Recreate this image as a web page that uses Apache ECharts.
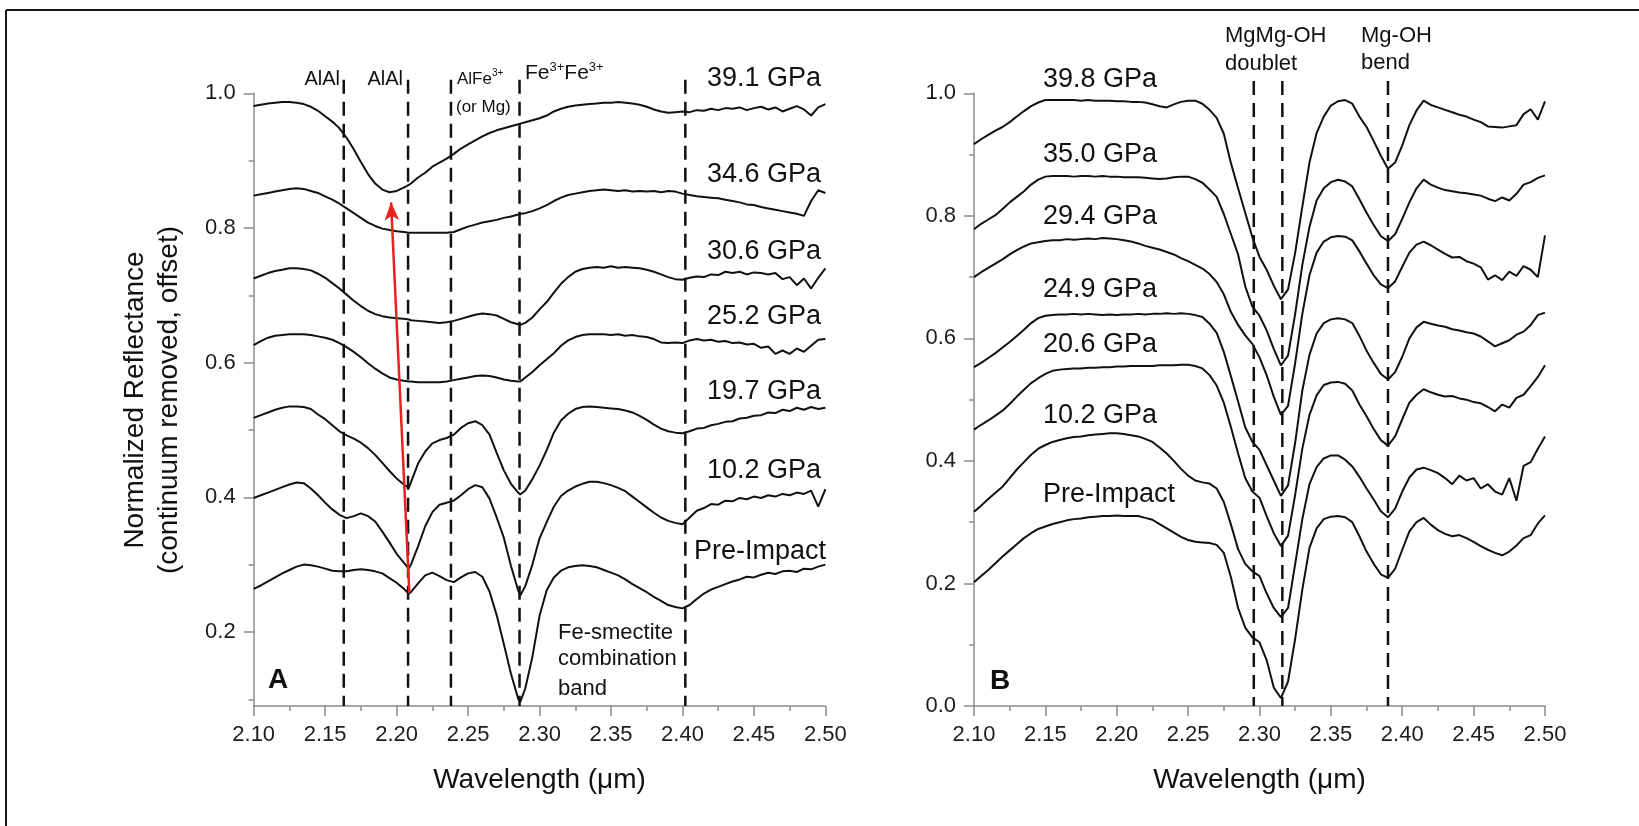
<!DOCTYPE html>
<html>
<head>
<meta charset="utf-8">
<script src="https://cdn.jsdelivr.net/npm/echarts@6/dist/echarts.min.js"></script>
<style>
  html, body { margin: 0; padding: 0; background: #fff; }
  #chart { width: 1639px; height: 826px; }
</style>
</head>
<body>
<div id="chart"></div>
<script>
// ---------- Panel A: Fe-smectite, continuum-removed spectra (offset) ----------
const wavelengthA = [2.100,2.105,2.110,2.115,2.120,2.125,2.130,2.135,2.140,2.145,2.150,2.155,2.160,2.165,2.170,2.175,2.180,2.185,2.190,2.195,2.200,2.205,2.2085,2.210,2.215,2.220,2.225,2.230,2.235,2.240,2.245,2.250,2.255,2.260,2.265,2.270,2.275,2.280,2.285,2.2865,2.290,2.295,2.300,2.305,2.310,2.315,2.320,2.325,2.330,2.335,2.340,2.345,2.350,2.355,2.360,2.365,2.370,2.375,2.380,2.385,2.390,2.395,2.400,2.405,2.410,2.415,2.420,2.425,2.430,2.435,2.440,2.445,2.450,2.455,2.460,2.465,2.470,2.475,2.480,2.485,2.490,2.495,2.500];

const refA_391 = [0.981,0.983,0.985,0.986,0.987,0.987,0.986,0.984,0.980,0.974,
  0.966,0.958,0.948,0.934,0.917,0.898,0.880,0.866,0.857,0.853,
  0.855,0.860,0.864,0.866,0.875,0.882,0.891,0.897,0.903,0.910,
  0.918,0.924,0.930,0.936,0.941,0.945,0.948,0.951,0.954,0.955,
  0.957,0.960,0.963,0.967,0.973,0.977,0.980,0.982,0.983,0.984,
  0.985,0.986,0.986,0.987,0.986,0.985,0.983,0.980,0.976,0.973,
  0.971,0.972,0.973,0.972,0.975,0.974,0.977,0.975,0.978,0.977,
  0.979,0.975,0.978,0.980,0.976,0.979,0.973,0.977,0.981,0.976,
  0.967,0.979,0.984];
const refA_346 = [0.848,0.850,0.852,0.854,0.856,0.858,0.859,0.858,0.855,0.852,
  0.847,0.842,0.836,0.829,0.822,0.815,0.808,0.803,0.799,0.797,
  0.795,0.794,0.793,0.793,0.793,0.793,0.793,0.793,0.793,0.794,
  0.798,0.802,0.805,0.808,0.810,0.812,0.815,0.817,0.820,0.821,
  0.822,0.825,0.829,0.834,0.840,0.845,0.849,0.851,0.853,0.855,
  0.856,0.857,0.856,0.855,0.856,0.854,0.855,0.854,0.855,0.853,
  0.855,0.854,0.851,0.849,0.847,0.846,0.845,0.844,0.842,0.840,
  0.838,0.835,0.834,0.831,0.829,0.827,0.825,0.823,0.821,0.818,
  0.840,0.856,0.852];
const refA_306 = [0.725,0.729,0.733,0.736,0.738,0.740,0.740,0.739,0.737,0.732,
  0.726,0.718,0.710,0.701,0.692,0.684,0.677,0.672,0.669,0.667,
  0.666,0.665,0.664,0.663,0.662,0.661,0.660,0.659,0.660,0.662,
  0.665,0.668,0.671,0.673,0.672,0.670,0.665,0.660,0.657,0.656,
  0.659,0.667,0.679,0.690,0.704,0.717,0.727,0.735,0.739,0.741,
  0.742,0.741,0.743,0.741,0.742,0.741,0.740,0.738,0.735,0.731,
  0.727,0.724,0.723,0.726,0.728,0.727,0.731,0.730,0.735,0.733,
  0.735,0.731,0.734,0.733,0.731,0.733,0.724,0.727,0.715,0.725,
  0.710,0.726,0.740];
const refA_252 = [0.626,0.632,0.637,0.640,0.641,0.642,0.642,0.642,0.641,0.639,
  0.637,0.634,0.629,0.623,0.616,0.608,0.599,0.591,0.584,0.578,
  0.575,0.573,0.572,0.572,0.571,0.571,0.571,0.571,0.572,0.574,
  0.576,0.578,0.580,0.581,0.580,0.578,0.575,0.573,0.572,0.572,
  0.578,0.586,0.596,0.605,0.614,0.625,0.633,0.638,0.641,0.642,
  0.642,0.642,0.641,0.642,0.640,0.641,0.639,0.638,0.635,0.630,
  0.629,0.630,0.629,0.633,0.635,0.633,0.634,0.631,0.632,0.629,
  0.630,0.627,0.628,0.622,0.624,0.613,0.618,0.613,0.621,0.616,
  0.625,0.634,0.635];
const refA_197 = [0.518,0.522,0.526,0.530,0.533,0.535,0.535,0.534,0.531,0.523,
  0.516,0.507,0.498,0.492,0.487,0.481,0.473,0.463,0.451,0.439,
  0.428,0.419,0.414,0.422,0.450,0.468,0.480,0.485,0.488,0.493,
  0.503,0.510,0.513,0.507,0.493,0.466,0.440,0.420,0.407,0.404,
  0.410,0.427,0.447,0.470,0.496,0.514,0.524,0.531,0.534,0.535,
  0.534,0.533,0.532,0.531,0.529,0.526,0.521,0.515,0.508,0.502,
  0.498,0.496,0.495,0.498,0.502,0.503,0.507,0.509,0.512,0.513,
  0.517,0.518,0.521,0.522,0.526,0.525,0.530,0.528,0.533,0.530,
  0.534,0.531,0.533];
const refA_102 = [0.399,0.403,0.407,0.411,0.415,0.419,0.422,0.421,0.413,0.403,
  0.392,0.382,0.374,0.369,0.372,0.376,0.372,0.364,0.349,0.333,
  0.316,0.303,0.294,0.300,0.327,0.357,0.378,0.389,0.392,0.395,
  0.403,0.412,0.418,0.415,0.398,0.370,0.340,0.298,0.262,0.254,
  0.268,0.300,0.339,0.363,0.386,0.402,0.410,0.416,0.420,0.423,
  0.423,0.421,0.418,0.414,0.409,0.401,0.393,0.385,0.377,0.370,
  0.365,0.362,0.360,0.370,0.380,0.384,0.390,0.389,0.395,0.394,
  0.399,0.397,0.401,0.399,0.403,0.401,0.405,0.403,0.407,0.405,
  0.410,0.386,0.412];
const refA_pre = [0.264,0.269,0.275,0.281,0.287,0.292,0.297,0.300,0.299,0.297,
  0.294,0.291,0.290,0.290,0.292,0.293,0.292,0.290,0.287,0.280,
  0.273,0.264,0.257,0.259,0.272,0.284,0.288,0.283,0.277,0.274,
  0.281,0.287,0.289,0.282,0.260,0.225,0.182,0.138,0.101,0.096,
  0.116,0.163,0.224,0.262,0.281,0.291,0.296,0.298,0.299,0.298,
  0.296,0.292,0.288,0.284,0.278,0.271,0.265,0.259,0.252,0.246,
  0.240,0.237,0.235,0.240,0.249,0.257,0.263,0.267,0.271,0.275,
  0.278,0.282,0.281,0.285,0.288,0.286,0.290,0.291,0.289,0.294,
  0.293,0.297,0.300];

const labelsA = ['39.1 GPa', '34.6 GPa', '30.6 GPa', '25.2 GPa', '19.7 GPa', '10.2 GPa', 'Pre-Impact'];
const bandCentersA = [2.163, 2.208, 2.238, 2.286, 2.402];
// AlAl band minimum shifting with pressure: Pre-Impact -> 39.1 GPa
const shiftArrowA = [[2.2089, 0.258], [2.1961, 0.838]];

// ---------- Panel B: Mg-smectite spectra (offset) ----------
const wavelengthB = [2.100,2.105,2.110,2.115,2.120,2.125,2.130,2.135,2.140,2.145,2.150,2.155,2.160,2.165,2.170,2.175,2.180,2.185,2.190,2.195,2.200,2.205,2.210,2.215,2.220,2.225,2.230,2.235,2.240,2.245,2.250,2.255,2.260,2.265,2.270,2.275,2.280,2.285,2.290,2.295,2.300,2.305,2.310,2.315,2.320,2.325,2.330,2.335,2.340,2.345,2.350,2.355,2.360,2.365,2.370,2.375,2.380,2.385,2.390,2.395,2.400,2.405,2.410,2.415,2.420,2.425,2.430,2.435,2.440,2.445,2.450,2.455,2.460,2.465,2.470,2.475,2.480,2.485,2.490,2.495,2.500];

const refB_398 = [0.917,0.925,0.932,0.939,0.945,0.953,0.962,0.971,0.979,0.985,
  0.989,0.989,0.989,0.989,0.989,0.988,0.989,0.988,0.988,0.988,
  0.987,0.987,0.986,0.986,0.985,0.982,0.979,0.977,0.982,0.986,
  0.988,0.988,0.983,0.973,0.960,0.934,0.886,0.845,0.805,0.765,
  0.733,0.712,0.686,0.664,0.680,0.740,0.815,0.887,0.935,0.962,
  0.980,0.987,0.989,0.983,0.962,0.945,0.922,0.898,0.877,0.887,
  0.915,0.948,0.972,0.988,0.981,0.977,0.973,0.969,0.965,0.962,
  0.957,0.953,0.946,0.945,0.944,0.946,0.948,0.966,0.974,0.957,
  0.987];
const refB_350 = [0.778,0.787,0.794,0.801,0.811,0.822,0.831,0.840,0.851,0.859,
  0.864,0.865,0.865,0.865,0.864,0.865,0.865,0.864,0.865,0.864,
  0.864,0.863,0.863,0.863,0.862,0.861,0.860,0.861,0.863,0.864,
  0.864,0.860,0.854,0.843,0.831,0.803,0.770,0.737,0.685,0.652,
  0.637,0.613,0.583,0.556,0.572,0.640,0.720,0.782,0.825,0.845,
  0.855,0.859,0.856,0.848,0.827,0.805,0.785,0.767,0.759,0.770,
  0.795,0.822,0.845,0.859,0.851,0.846,0.842,0.840,0.838,0.837,
  0.835,0.833,0.828,0.824,0.830,0.825,0.836,0.851,0.855,0.862,
  0.866];
const refB_294 = [0.700,0.708,0.715,0.722,0.729,0.737,0.744,0.750,0.755,0.757,
  0.759,0.760,0.760,0.762,0.761,0.762,0.763,0.762,0.764,0.763,
  0.762,0.760,0.758,0.755,0.751,0.748,0.745,0.741,0.737,0.731,
  0.726,0.720,0.714,0.705,0.692,0.672,0.643,0.622,0.605,0.591,
  0.569,0.540,0.505,0.475,0.490,0.560,0.640,0.703,0.740,0.758,
  0.765,0.767,0.766,0.760,0.742,0.722,0.703,0.688,0.682,0.693,
  0.717,0.740,0.753,0.758,0.752,0.745,0.738,0.732,0.733,0.726,
  0.722,0.716,0.696,0.703,0.695,0.709,0.702,0.718,0.712,0.700,
  0.768];
const refB_249 = [0.553,0.560,0.568,0.576,0.585,0.594,0.604,0.614,0.625,0.633,
  0.637,0.638,0.639,0.639,0.640,0.639,0.640,0.639,0.638,0.639,
  0.638,0.639,0.639,0.640,0.639,0.640,0.640,0.641,0.640,0.641,
  0.640,0.638,0.635,0.624,0.609,0.578,0.538,0.497,0.455,0.431,
  0.418,0.393,0.368,0.343,0.360,0.430,0.515,0.573,0.608,0.625,
  0.631,0.633,0.631,0.625,0.604,0.580,0.560,0.542,0.533,0.545,
  0.570,0.600,0.618,0.627,0.624,0.621,0.619,0.615,0.613,0.610,
  0.608,0.603,0.595,0.587,0.592,0.597,0.606,0.611,0.622,0.638,
  0.642];
const refB_206 = [0.451,0.459,0.466,0.474,0.482,0.493,0.505,0.516,0.527,0.535,
  0.542,0.547,0.549,0.550,0.551,0.551,0.552,0.552,0.553,0.553,
  0.554,0.554,0.555,0.555,0.555,0.555,0.556,0.556,0.556,0.557,
  0.557,0.555,0.551,0.540,0.523,0.495,0.455,0.412,0.372,0.350,
  0.340,0.310,0.282,0.261,0.278,0.345,0.420,0.475,0.507,0.524,
  0.528,0.529,0.526,0.515,0.492,0.473,0.452,0.434,0.425,0.440,
  0.468,0.495,0.508,0.517,0.512,0.508,0.505,0.506,0.502,0.500,
  0.496,0.494,0.488,0.481,0.492,0.487,0.503,0.508,0.522,0.537,
  0.556];
const refB_102 = [0.317,0.327,0.338,0.348,0.358,0.372,0.386,0.398,0.410,0.420,
  0.426,0.431,0.434,0.437,0.439,0.440,0.442,0.443,0.444,0.445,
  0.445,0.444,0.442,0.440,0.436,0.431,0.422,0.412,0.400,0.387,
  0.376,0.368,0.365,0.363,0.355,0.333,0.296,0.256,0.232,0.220,
  0.212,0.184,0.160,0.145,0.160,0.232,0.305,0.362,0.390,0.404,
  0.409,0.409,0.402,0.391,0.374,0.355,0.337,0.318,0.308,0.322,
  0.350,0.373,0.386,0.389,0.385,0.380,0.372,0.362,0.376,0.368,
  0.372,0.355,0.362,0.350,0.345,0.372,0.335,0.392,0.398,0.420,
  0.440];
const refB_pre = [0.202,0.212,0.222,0.233,0.244,0.254,0.264,0.274,0.282,0.289,
  0.293,0.297,0.300,0.303,0.305,0.306,0.308,0.309,0.310,0.310,
  0.311,0.310,0.310,0.310,0.307,0.304,0.297,0.290,0.283,0.276,
  0.271,0.268,0.267,0.266,0.263,0.250,0.210,0.160,0.128,0.112,
  0.104,0.075,0.030,0.013,0.040,0.110,0.190,0.258,0.290,0.305,
  0.309,0.310,0.308,0.300,0.277,0.252,0.232,0.215,0.209,0.224,
  0.255,0.285,0.300,0.307,0.296,0.287,0.281,0.277,0.279,0.274,
  0.268,0.261,0.255,0.250,0.246,0.252,0.262,0.274,0.279,0.298,
  0.311];

const labelsB = ['39.8 GPa', '35.0 GPa', '29.4 GPa', '24.9 GPa', '20.6 GPa', '10.2 GPa', 'Pre-Impact'];
const bandCentersB = [2.296, 2.316, 2.390];

// Axis ranges and ticks
const xTicks = [2.10, 2.15, 2.20, 2.25, 2.30, 2.35, 2.40, 2.45, 2.50];
const yTicksA = [0.2, 0.4, 0.6, 0.8, 1.0];
const yMinorA = [0.1, 0.3, 0.5, 0.7, 0.9];
const yMinA = 0.09, yMaxA = 1.0;
const yMinB = 0.0, yMaxB = 1.0;
const bandLineTop = 1.02;

// ---------- styling ----------
const FONT = "'Liberation Sans', Arial, Helvetica, sans-serif";
const INK = '#111111';
const AXIS = '#8c8c8c';
const ARROW_RED = '#e8231f';

const gridA = { left: 253.7, top: 93.3, width: 571.7, height: 612.7 };
const gridB = { left: 974, top: 93.3, width: 571, height: 612.7 };

function xAxisFor(gridIndex) {
  return {
    type: 'value', gridIndex,
    min: xTicks[0], max: xTicks[xTicks.length - 1], interval: 0.05,
    name: 'Wavelength (\u03bcm)', nameLocation: 'middle', nameGap: 60,
    nameTextStyle: { fontFamily: FONT, fontSize: 28, color: INK },
    axisLine: { show: true, onZero: false, lineStyle: { color: AXIS, width: 1.5 } },
    axisTick: { show: true, inside: false, length: 10, lineStyle: { color: AXIS, width: 1.5 } },
    minorTick: { show: true, splitNumber: 2, length: 5, lineStyle: { color: AXIS, width: 1.5 } },
    axisLabel: { margin: 18, fontFamily: FONT, fontSize: 22, color: '#1c1c1c',
                 formatter: v => v.toFixed(2) },
    splitLine: { show: false }, minorSplitLine: { show: false }
  };
}

const yAxes = [
  { // panel A, labelled ticks
    type: 'value', gridIndex: 0, position: 'left', min: yMinA, max: yMaxA,
    axisLine: { show: true, onZero: false, lineStyle: { color: AXIS, width: 1.5 } },
    axisTick: { show: true, length: 10, customValues: yTicksA, lineStyle: { color: AXIS, width: 1.5 } },
    axisLabel: { margin: 18, fontFamily: FONT, fontSize: 22, color: '#1c1c1c',
                 customValues: yTicksA, formatter: v => v.toFixed(1) },
    splitLine: { show: false }
  },
  { // panel A, minor ticks on the same left edge
    type: 'value', gridIndex: 0, position: 'left', offset: 0, min: yMinA, max: yMaxA,
    axisLine: { show: false, onZero: false },
    axisTick: { show: true, length: 5, customValues: yMinorA, lineStyle: { color: AXIS, width: 1.5 } },
    axisLabel: { show: false },
    splitLine: { show: false }
  },
  { // panel B
    type: 'value', gridIndex: 1, position: 'left', min: yMinB, max: yMaxB, interval: 0.2,
    axisLine: { show: true, onZero: false, lineStyle: { color: AXIS, width: 1.5 } },
    axisTick: { show: true, length: 10, lineStyle: { color: AXIS, width: 1.5 } },
    minorTick: { show: true, splitNumber: 2, length: 5, lineStyle: { color: AXIS, width: 1.5 } },
    axisLabel: { margin: 18, fontFamily: FONT, fontSize: 22, color: '#1c1c1c',
                 formatter: v => v.toFixed(1) },
    splitLine: { show: false }, minorSplitLine: { show: false }
  }
];

function spectrum(name, xs, ys, xAxisIndex, yAxisIndex) {
  return {
    type: 'line', name, xAxisIndex, yAxisIndex,
    data: xs.map((w, i) => [w, ys[i]]),
    showSymbol: false, symbol: 'none', silent: true, z: 3,
    lineStyle: { color: INK, width: 2 }
  };
}

function bandLine(x, yBottom, xAxisIndex, yAxisIndex) {
  return {
    type: 'line', xAxisIndex, yAxisIndex,
    data: [[x, bandLineTop], [x, yBottom]],
    showSymbol: false, symbol: 'none', silent: true, clip: false, z: 2,
    lineStyle: { color: INK, width: 2.5, type: [14, 8] }
  };
}

const spectraA = [refA_391, refA_346, refA_306, refA_252, refA_197, refA_102, refA_pre];
const spectraB = [refB_398, refB_350, refB_294, refB_249, refB_206, refB_102, refB_pre];

const series = [];
bandCentersA.forEach(x => series.push(bandLine(x, yMinA, 0, 0)));
bandCentersB.forEach(x => series.push(bandLine(x, yMinB, 1, 2)));
spectraA.forEach((ys, i) => series.push(spectrum('A ' + labelsA[i], wavelengthA, ys, 0, 0)));
spectraB.forEach((ys, i) => series.push(spectrum('B ' + labelsB[i], wavelengthB, ys, 1, 2)));
series.push({
  type: 'line', xAxisIndex: 0, yAxisIndex: 0, data: [], silent: true, z: 10,
  markLine: {
    silent: true, animation: false,
    symbol: ['none', 'arrow'], symbolSize: [11, 18],
    label: { show: false },
    lineStyle: { color: ARROW_RED, width: 2.5, type: 'solid' },
    emphasis: { disabled: true },
    data: [[{ coord: shiftArrowA[0] }, { coord: shiftArrowA[1] }]]
  }
});

// ---------- annotations ----------
function txt(text, x, y, size, align, extra) {
  return Object.assign({
    type: 'text', x, y, silent: true, z: 20,
    style: { text, fontFamily: FONT, fontSize: size, fill: INK, align, verticalAlign: 'middle' }
  }, extra || {});
}
function supTxt(base, sup, x, y, size, supSize) {
  return {
    type: 'text', x, y, silent: true, z: 20,
    style: {
      text: base.map(b => '{b|' + b + '}{s|' + sup + '}').join(''),
      align: 'left', verticalAlign: 'middle',
      rich: {
        b: { fontFamily: FONT, fontSize: size, fill: INK, lineHeight: size + 2, verticalAlign: 'bottom' },
        s: { fontFamily: FONT, fontSize: supSize, fill: INK, lineHeight: size + 2, verticalAlign: 'top' }
      }
    }
  };
}

const labelPosA = [78.5, 174.5, 251.5, 316.5, 391.5, 470.5, 551.5];
const labelPosB = [79.5, 154.5, 217, 289.5, 344.5, 415.5, 494.5];

const graphics = [
  // figure frame
  { type: 'line', silent: true, shape: { x1: 6, y1: 10, x2: 1639, y2: 10 }, style: { stroke: '#1a1a1a', lineWidth: 2 } },
  { type: 'line', silent: true, shape: { x1: 6, y1: 10, x2: 6, y2: 826 }, style: { stroke: '#1a1a1a', lineWidth: 2 } },
  // y title, panel A
  txt('Normalized Reflectance', 135, 400, 28, 'center', { rotation: Math.PI / 2 }),
  txt('(continuum removed, offset)', 169, 400, 28, 'center', { rotation: Math.PI / 2 }),
  // band assignments, panel A
  txt('AlAl', 340, 79, 20, 'right'),
  txt('AlAl', 403, 79, 20, 'right'),
  supTxt(['AlFe'], '3+', 457, 78, 17, 10),
  txt('(or Mg)', 456, 107, 17, 'left'),
  supTxt(['Fe', 'Fe'], '3+', 525, 72, 21, 13),
  txt('Fe-smectite', 558, 632.5, 22, 'left'),
  txt('combination', 558, 659, 22, 'left'),
  txt('band', 558, 689, 22, 'left'),
  // band assignments, panel B
  txt('MgMg-OH', 1225, 35.5, 22, 'left'),
  txt('doublet', 1225, 64, 22, 'left'),
  txt('Mg-OH', 1361, 35.5, 22, 'left'),
  txt('bend', 1361, 63, 22, 'left'),
  // panel letters
  { type: 'text', x: 268, y: 680, silent: true, z: 20,
    style: { text: 'A', fontFamily: FONT, fontSize: 28, fontWeight: 'bold', fill: INK, align: 'left', verticalAlign: 'middle' } },
  { type: 'text', x: 990, y: 681, silent: true, z: 20,
    style: { text: 'B', fontFamily: FONT, fontSize: 28, fontWeight: 'bold', fill: INK, align: 'left', verticalAlign: 'middle' } }
];
labelsA.forEach((t, i) => graphics.push(txt(t, i === labelsA.length - 1 ? 826 : 821, labelPosA[i], 27, 'right')));
labelsB.forEach((t, i) => graphics.push(txt(t, 1043, labelPosB[i], 27, 'left')));

const chart = echarts.init(document.getElementById('chart'), null, { renderer: 'canvas' });
chart.setOption({
  backgroundColor: '#ffffff',
  animation: false,
  grid: [gridA, gridB],
  xAxis: [xAxisFor(0), xAxisFor(1)],
  yAxis: yAxes,
  series,
  graphic: graphics
});
</script>
</body>
</html>
